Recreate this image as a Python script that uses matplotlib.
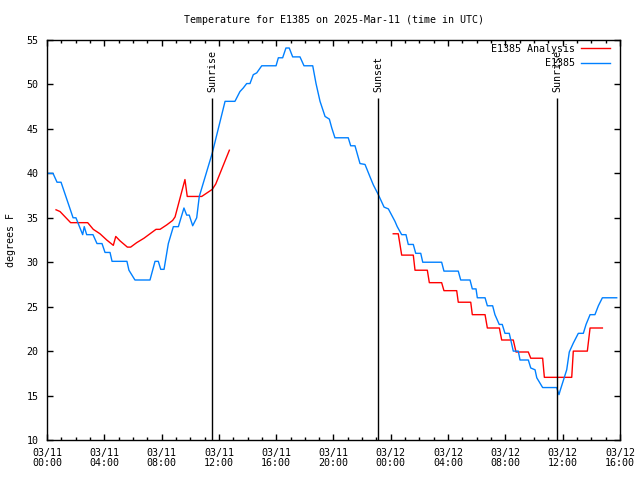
import datetime as dt
import numpy as np
import matplotlib
matplotlib.use("Agg")
import matplotlib.pyplot as plt
import matplotlib.dates as mdates
from matplotlib.ticker import MultipleLocator

start = dt.datetime(2025, 3, 11, 0, 0)

# observed temperature (hours after 03/11 00:00 UTC, degrees F)
obs_hours = [0.0, 0.42, 0.70, 0.98, 1.82, 2.02, 2.49, 2.60, 2.77, 3.21, 3.49, 3.84,
             4.05, 4.40, 4.54, 5.58, 5.72, 6.14, 7.19, 7.54, 7.77, 7.94, 8.17, 8.47,
             8.82, 9.17, 9.56, 9.75, 9.93, 10.17, 10.45, 10.63, 11.54, 12.43, 13.12,
             13.47, 13.70, 13.94, 14.17, 14.40, 14.64, 14.99, 15.99, 16.15, 16.45,
             16.68, 16.91, 17.15, 17.66, 17.94, 18.55, 18.78, 19.06, 19.41, 19.71,
             19.88, 20.10, 21.03, 21.20, 21.50, 21.85, 22.20, 22.55, 22.78, 23.13,
             23.53, 23.83, 24.29, 24.45, 24.76, 25.06, 25.22, 25.57, 25.74, 26.09,
             26.23, 27.55, 27.71, 28.71, 28.88, 29.53, 29.69, 29.95, 30.04, 30.58,
             30.74, 31.11, 31.27, 31.57, 31.78, 31.97, 32.27, 32.55, 32.90, 33.02,
             33.60, 33.77, 34.07, 34.19, 34.60, 35.58, 35.74, 35.81, 36.28, 36.46,
             36.74, 37.09, 37.44, 37.63, 37.91, 38.25, 38.49, 38.77, 39.77]
obs_temps = [40.0, 40.0, 39.0, 39.0, 35.0, 35.0, 33.1, 34.0, 33.1, 33.1, 32.1, 32.1,
             31.1, 31.1, 30.1, 30.1, 29.1, 28.0, 28.0, 30.1, 30.1, 29.2, 29.2, 32.1,
             34.0, 34.0, 36.1, 35.3, 35.3, 34.1, 35.0, 37.4, 42.3, 48.1, 48.1,
             49.2, 49.6, 50.1, 50.1, 51.1, 51.3, 52.1, 52.1, 53.0, 53.0,
             54.1, 54.1, 53.1, 53.1, 52.1, 52.1, 50.1, 48.1, 46.4, 46.1,
             45.1, 44.0, 44.0, 43.1, 43.1, 41.1, 41.0, 39.6, 38.7, 37.6,
             36.2, 36.0, 34.6, 34.0, 33.1, 33.1, 32.0, 32.0, 31.0, 31.0,
             30.0, 30.0, 29.0, 29.0, 28.0, 28.0, 27.0, 27.0, 26.0, 26.0,
             25.1, 25.1, 24.1, 23.0, 23.0, 22.0, 22.0, 20.0, 20.0, 19.0,
             19.0, 18.1, 17.9, 17.0, 15.9, 15.9, 15.1, 15.5, 17.9, 19.9,
             20.9, 22.0, 22.0, 23.0, 24.1, 24.1, 25.1, 26.0, 26.0]

# analysis temperature, two pieces
ana_hours_1 = [0.63, 0.91, 1.65, 2.84, 3.23, 3.70, 4.17, 4.63, 4.80, 5.10, 5.61, 5.84,
               6.26, 6.77, 7.19, 7.61, 7.89, 8.36, 8.77, 8.94, 9.63, 9.79, 10.80,
               11.54, 11.78, 12.73]
ana_temps_1 = [35.9, 35.7, 34.45, 34.45, 33.7, 33.2, 32.5, 31.9, 32.9, 32.4, 31.7, 31.7,
               32.2, 32.7, 33.2, 33.7, 33.7, 34.2, 34.7, 35.1, 39.3, 37.4, 37.4,
               38.2, 38.8, 42.6]
ana_hours_2 = [24.17, 24.52, 24.76, 25.57, 25.69, 26.55, 26.69, 27.55, 27.71, 28.60,
               28.71, 29.58, 29.69, 30.58, 30.74, 31.58, 31.74, 32.55, 32.74, 33.60,
               33.77, 34.60, 34.72, 36.63, 36.74, 37.72, 37.91, 38.77]
ana_temps_2 = [33.2, 33.2, 30.8, 30.8, 29.1, 29.1, 27.7, 27.7, 26.8, 26.8,
               25.5, 25.5, 24.1, 24.1, 22.6, 22.6, 21.25, 21.25, 19.9, 19.9,
               19.2, 19.2, 17.05, 17.05, 20.0, 20.0, 22.6, 22.6]

sun_names = ["Sunrise", "Sunset", "Sunrise"]
sun_hours = [11.52, 23.11, 35.60]


def to_time(hours):
    return [start + dt.timedelta(hours=h) for h in hours]


plt.rcParams["font.family"] = "DejaVu Sans Mono"
plt.rcParams["font.size"] = 7.2

fig = plt.figure(figsize=(6.4, 4.8), dpi=100)
ax = fig.add_axes([47 / 640, 40 / 480, 573 / 640, 400 / 480])

red = "#ff0000"
blue = "#0080ff"
ax.plot(to_time(ana_hours_1), ana_temps_1, color=red, lw=1.0, label="E1385 Analysis")
ax.plot(to_time(ana_hours_2), ana_temps_2, color=red, lw=1.0)
ax.plot(to_time(obs_hours), obs_temps, color=blue, lw=1.0, label="E1385")

for name, h in zip(sun_names, sun_hours):
    t = to_time([h])[0]
    ax.vlines(t, 10, 48.5, color="black", lw=1.0)
    ax.text(t, 49.1, name, rotation=90, ha="center", va="bottom")

ax.set_xlim(start, start + dt.timedelta(hours=40))
ax.set_ylim(10, 55)
ax.xaxis.set_major_locator(mdates.HourLocator(byhour=range(0, 24, 4)))
ax.xaxis.set_minor_locator(mdates.HourLocator())
ax.xaxis.set_major_formatter(mdates.DateFormatter("%m/%d\n%H:%M"))
ax.yaxis.set_major_locator(MultipleLocator(5))
ax.tick_params(which="both", direction="in", top=True, right=True, width=1)
ax.tick_params(which="major", length=4.5, pad=6)
ax.tick_params(which="minor", length=2.5)
for s in ax.spines.values():
    s.set_linewidth(1)

ax.set_ylabel("degrees F", labelpad=8)
ax.text(0.5, 1 + 20 / 400, "Temperature for E1385 on 2025-Mar-11 (time in UTC)",
        transform=ax.transAxes, ha="center", va="center")
ax.legend(loc="upper right", bbox_to_anchor=(0.997, 1.01), frameon=False,
          markerfirst=False, handlelength=2.9, labelspacing=0.45, borderpad=0.3,
          handletextpad=0.6)

fig.canvas.draw()
for lbl in ax.get_xticklabels():
    lbl.set_linespacing(1.0)

fig.savefig("out.png", dpi=100)
